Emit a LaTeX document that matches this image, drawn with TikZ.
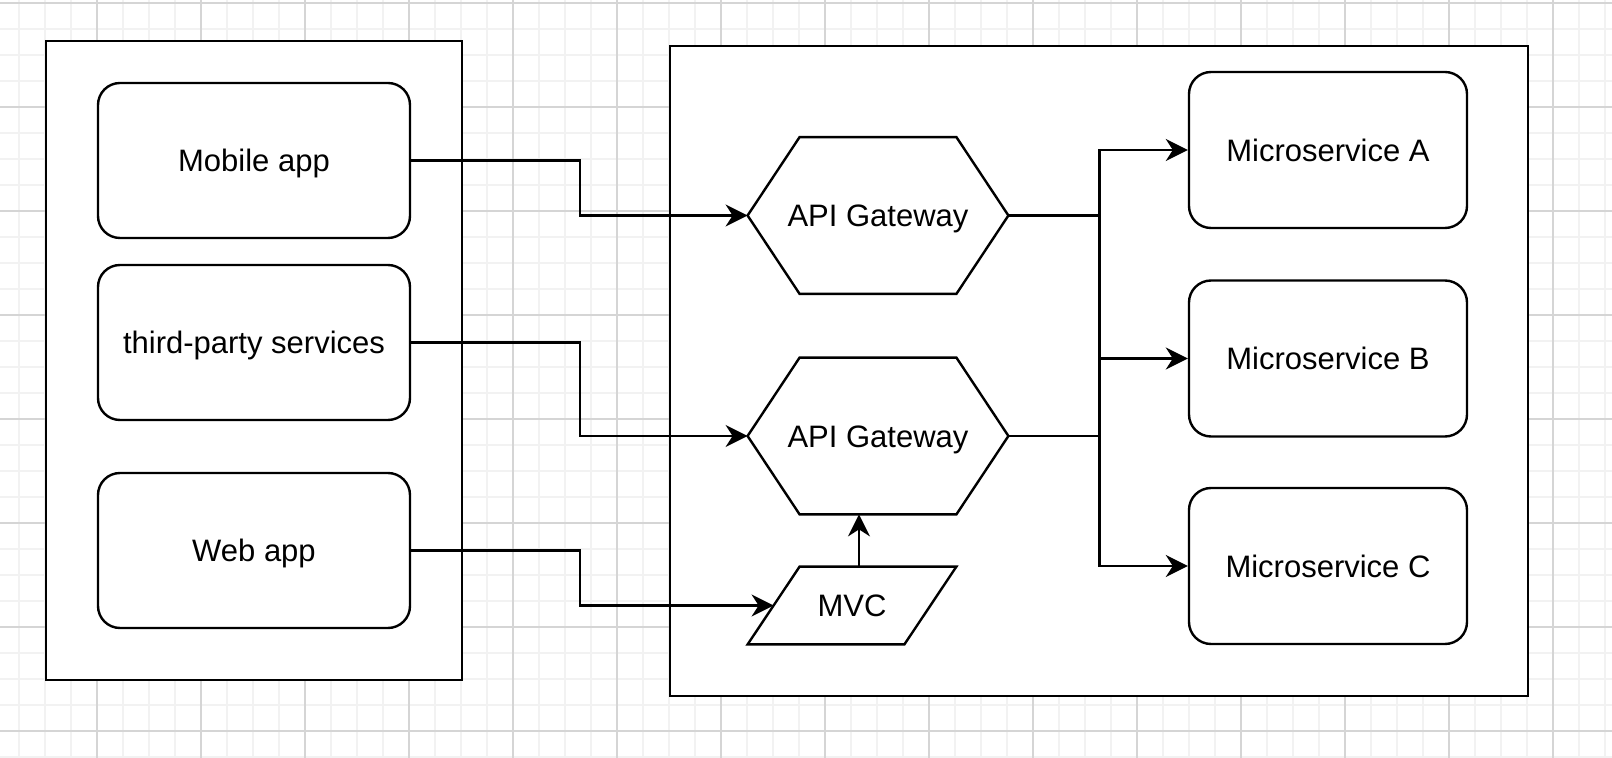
\documentclass[tikz,border=0pt]{standalone}
\usepackage{fontspec}
\setmainfont{Liberation Sans}
\usepackage{xcolor}
\usetikzlibrary{calc}
\usetikzlibrary{arrows.meta}
\definecolor{gridminor}{HTML}{F2F2F2}
\definecolor{gridmajor}{HTML}{D5D5D5}
\tikzset{
	frame/.style={draw, fill=white, line width=1.3pt, minimum width=#1},
	roundbox/.style={draw, fill=white, line width=1.2pt, rounded corners=11pt,
			minimum width=156pt, minimum height=77.5pt},
	msbox/.style={roundbox, minimum width=139pt, minimum height=78pt},
	shapespot/.style={inner sep=0pt},
	outline/.style={draw, fill=white, line width=1.2pt},
	arr/.style={line width=1.2pt, -{Stealth[length=11pt, width=11pt, inset=3.5pt]}},
	every node/.style={text height=11.1pt, text depth=0pt}
}

\begin{document}
\begin{tikzpicture}[x=0.5pt, y=-0.5pt, font=\fontsize{15.5}{18}\selectfont]
	\useasboundingbox (0,0) rectangle (1612,758);
	\fill[white] (0,0) rectangle (1612,758);
	\foreach \x in {19,45,...,1612} \draw[gridminor, line width=0.8pt] (\x,0) -- (\x,758);
	\foreach \y in {3,29,...,758} \draw[gridminor, line width=0.8pt] (0,\y) -- (1612,\y);
	\foreach \x in {97,201,...,1612} \draw[gridmajor, line width=0.6pt] (\x,0) -- (\x,758);
	\foreach \y in {3,107,...,758} \draw[gridmajor, line width=0.6pt] (0,\y) -- (1612,\y);

	% clients
	\node[frame=208pt, minimum height=319.5pt] (clients) at (254,360.5) {};
	\node[roundbox] (mobile) at (254,160.5) {Mobile app};
	\node[roundbox] (third) at (254,342.5) {third-party services};
	\node[roundbox] (web) at (254,550.5) {Web app};

	% backend
	\node[frame=429pt, minimum height=325pt] (backend) at (1099,371) {};
	\node[shapespot, minimum width=130pt, minimum height=78pt] (hexa) at (878,215.5) {};
	\node[shapespot, minimum width=130pt, minimum height=78pt] (hexb) at (878,436) {};
	\node[shapespot, minimum width=104pt, minimum height=38.5pt] (mvc) at (852,605.5) {};
	\foreach \h in {hexa,hexb}{
		\draw[outline] (\h.west) -- ($(\h.north west)+(52,0)$) -- ($(\h.north east)-(52,0)$)
			-- (\h.east) -- ($(\h.south east)-(52,0)$) -- ($(\h.south west)+(52,0)$) -- cycle;
		\node at (\h) {API Gateway};
	}
	\draw[outline] (mvc.south west) -- ($(mvc.north west)+(52,0)$) -- (mvc.north east)
		-- ($(mvc.south east)-(52,0)$) -- cycle;
	\node at (mvc) {MVC};
	\node[msbox] (msa) at (1328,150) {Microservice A};
	\node[msbox] (msb) at (1328,358.5) {Microservice B};
	\node[msbox] (msc) at (1328,566) {Microservice C};

	% connectors
	\draw[arr] (mobile.east) -- ++(169,0) |- (hexa.west);
	\draw[arr] (third.east) -- ++(169,0) |- (hexb.west);
	\coordinate (mvcin) at ($(mvc.west)+(26,0)$);
	\draw[arr] (web.east) -- ++(169,0) |- (mvcin);
	\coordinate (mvcout) at ($(mvc.north)+(7,0)$);
	\draw[arr] (mvcout) -- (mvcout |- hexb.south);
	\draw[arr] (hexa.east) -- ++(91,0) |- (msa.west);
	\draw[arr] (hexa.east) -- ++(91,0) |- (msc.west);
	\draw[arr] (hexb.east) -- ++(91,0) |- (msb.west);
\end{tikzpicture}
\end{document}
